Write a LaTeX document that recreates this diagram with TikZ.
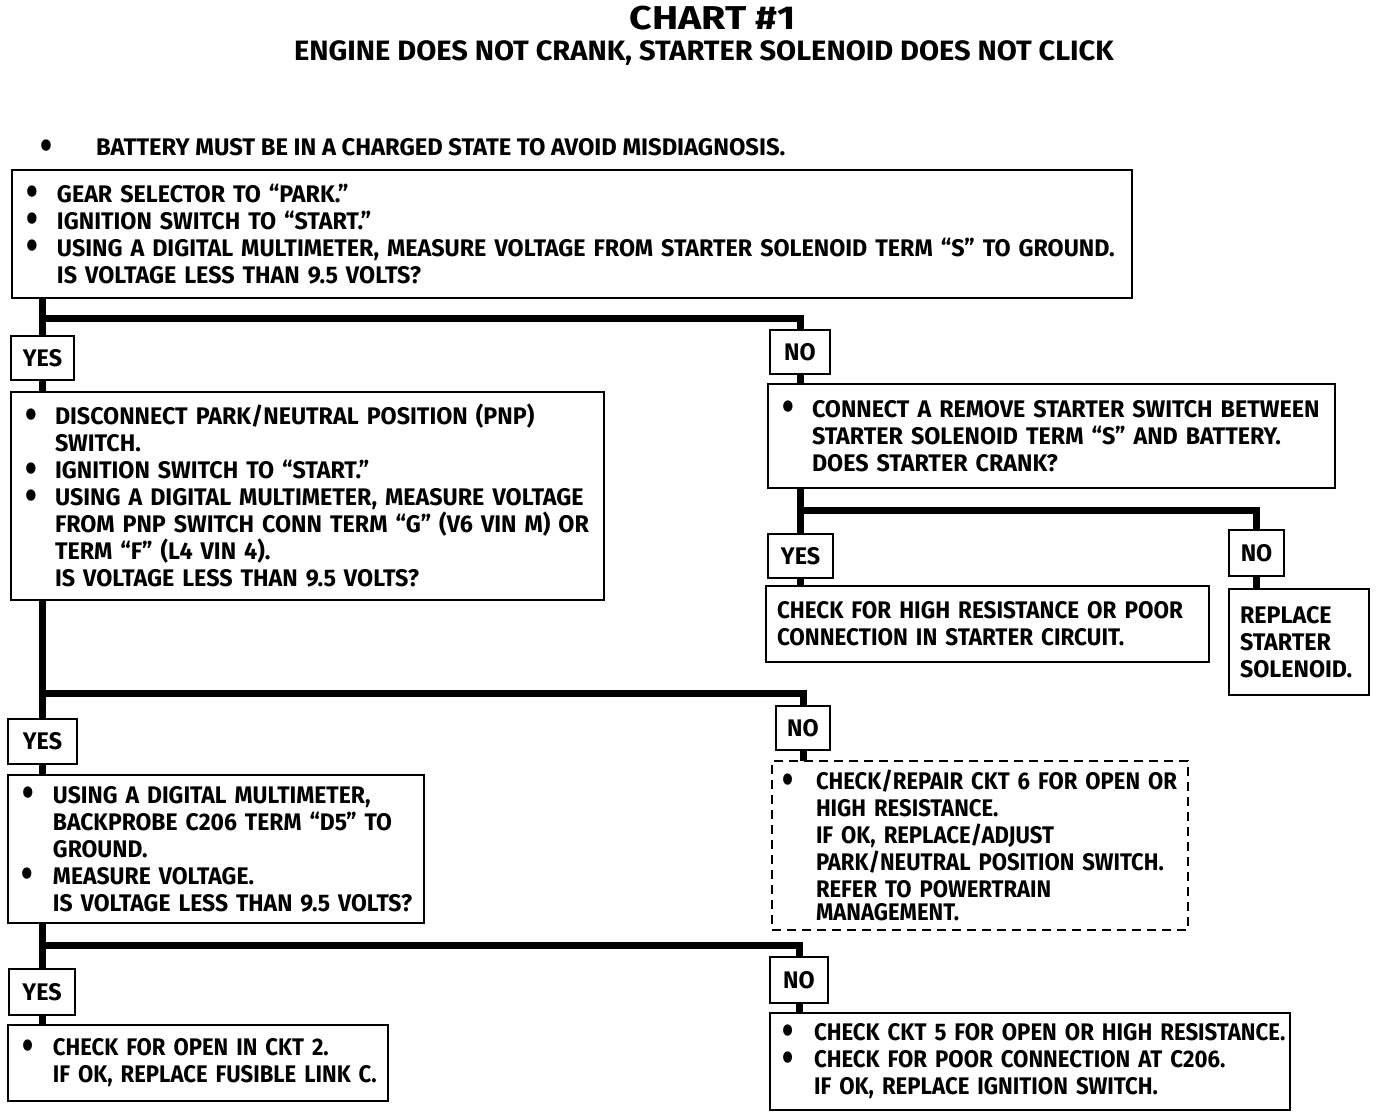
\documentclass[tikz,border=0pt]{standalone}
\usepackage{fontspec}
\setmainfont{Fira Sans}[FakeStretch=0.97]
\newfontfamily\fa{Fira Sans}[FakeStretch=0.99]
\newfontfamily\fb{Fira Sans}[FakeStretch=0.97]
\newfontfamily\fc{Fira Sans}[FakeStretch=0.955]
\newfontfamily\fd{Fira Sans}[FakeStretch=0.935]
\newfontfamily\fe{Fira Sans}[FakeStretch=0.92]
\newfontfamily\ff{Fira Sans}[FakeStretch=0.925]
\newcommand\bodyfont{\fontsize{24}{27}\selectfont\bfseries}
\newcommand\bigbul{\raisebox{-3.5pt}[0pt][0pt]{\scalebox{1.45}[1.7]{\textbullet}}}
\newcommand\bl[2]{\mbox{\makebox[#1][l]{\bigbul}#2}}
\newcommand\cl[2]{\mbox{\hspace*{#1}#2}}
\begin{document}
\begin{tikzpicture}[x=1pt,y=-1pt,
  box/.style={draw, line width=2.5pt, anchor=north west, align=left, inner ysep=0pt, outer sep=0pt, font=\fb\bodyfont},
  dbox/.style={box, line width=2pt, dash pattern=on 9pt off 6pt},
  lbl/.style={draw, line width=2.5pt, anchor=north west, inner sep=0pt, outer sep=0pt, font=\fb\bodyfont},
  conn/.style={line width=7pt},
]
\useasboundingbox[fill=white] (0,0) rectangle (1392,1118);

% titles
\node[anchor=base, inner sep=0pt, font=\fontsize{33}{36}\selectfont\bfseries] (title) at (713,30) {\scalebox{1.23}[1]{CHART \#1}};
\node[anchor=base, inner sep=0pt, font=\fontsize{28}{30}\selectfont\bfseries] (sub) at (704,61) {\scalebox{1.07}[1]{ENGINE DOES NOT CRANK, STARTER SOLENOID DOES NOT CLICK}};
\node[anchor=base west, inner sep=0pt, font=\fa\bodyfont] (bat) at (40,156) {\bl{56pt}{BATTERY MUST BE IN A CHARGED STATE TO AVOID MISDIAGNOSIS.}};

% boxes
\node[box, minimum width=1120pt, minimum height=128pt, inner xsep=15pt, text width=1090pt] (b1) at (12,170)
 {\bl{30pt}{GEAR SELECTOR TO “PARK.”}\\
  \bl{30pt}{IGNITION SWITCH TO “START.”}\\
  \bl{30pt}{USING A DIGITAL MULTIMETER, MEASURE VOLTAGE FROM STARTER SOLENOID TERM “S” TO GROUND.}\\
  \cl{30pt}{IS VOLTAGE LESS THAN 9.5 VOLTS?}};

\node[lbl, minimum width=63pt, minimum height=44pt] (y1) at (11,336) {YES};
\node[lbl, minimum width=60pt, minimum height=44pt] (n1) at (770,330) {NO};

\node[box, minimum width=593pt, minimum height=208pt, inner xsep=14pt, text width=565pt] (b2) at (11,392)
 {\bl{30pt}{DISCONNECT PARK/NEUTRAL POSITION (PNP)}\\
  \cl{30pt}{SWITCH.}\\
  \bl{30pt}{IGNITION SWITCH TO “START.”}\\
  \bl{30pt}{USING A DIGITAL MULTIMETER, MEASURE VOLTAGE}\\
  \cl{30pt}{FROM PNP SWITCH CONN TERM “G” (V6 VIN M) OR}\\
  \cl{30pt}{TERM “F” (L4 VIN 4).}\\
  \cl{30pt}{IS VOLTAGE LESS THAN 9.5 VOLTS?}};

\node[box, minimum width=567pt, minimum height=104pt, inner xsep=14pt, text width=539pt] (b3) at (768,384)
 {\bl{30pt}{CONNECT A REMOVE STARTER SWITCH BETWEEN}\\
  \cl{30pt}{STARTER SOLENOID TERM “S” AND BATTERY.}\\
  \cl{30pt}{DOES STARTER CRANK?}};

\node[lbl, minimum width=65pt, minimum height=44pt] (y2) at (768,534) {YES};
\node[lbl, minimum width=55pt, minimum height=46pt] (n2) at (1229,530) {NO};

\node[box, font=\fd\bodyfont, minimum width=443pt, minimum height=76pt, inner xsep=11pt, text width=421pt] (b4) at (766,586)
 {\mbox{CHECK FOR HIGH RESISTANCE OR POOR}\\
  \mbox{CONNECTION IN STARTER CIRCUIT.}};

\node[box, minimum width=140pt, minimum height=106pt, inner xsep=11pt, text width=118pt] (b5) at (1229,589)
 {\mbox{REPLACE}\\ \mbox{STARTER}\\ \mbox{SOLENOID.}};

\node[lbl, minimum width=69pt, minimum height=45pt] (y3) at (8,719) {YES};
\node[lbl, minimum width=54pt, minimum height=44pt] (n3) at (776,706) {NO};

\node[box, font=\fc\bodyfont, minimum width=416pt, minimum height=148pt, inner xsep=14pt, text width=388pt] (b6) at (8,775)
 {\bl{31pt}{USING A DIGITAL MULTIMETER,}\\
  \cl{31pt}{BACKPROBE C206 TERM “D5” TO}\\
  \cl{31pt}{GROUND.}\\
  \bl{31pt}{MEASURE VOLTAGE.}\\
  \cl{31pt}{IS VOLTAGE LESS THAN 9.5 VOLTS?}};

\node[dbox, font=\fe\bodyfont, minimum width=416pt, minimum height=169pt, inner xsep=10pt, text width=396pt] (b7) at (772,761)
 {\bl{34pt}{CHECK/REPAIR CKT 6 FOR OPEN OR}\\
  \cl{34pt}{HIGH RESISTANCE.}\\
  \cl{34pt}{IF OK, REPLACE/ADJUST}\\
  \cl{34pt}{PARK/NEUTRAL POSITION SWITCH.}\\
  \cl{34pt}{REFER TO POWERTRAIN}\\[-4pt]
  \cl{34pt}{MANAGEMENT.}};

\node[lbl, minimum width=66pt, minimum height=46pt] (y4) at (9,969) {YES};
\node[lbl, minimum width=58pt, minimum height=46pt] (n4) at (770,957) {NO};

\node[box, font=\fe\bodyfont, minimum width=380pt, minimum height=76pt, inner xsep=14pt, text width=352pt] (b8) at (8,1025)
 {\bl{31pt}{CHECK FOR OPEN IN CKT 2.}\\
  \cl{31pt}{IF OK, REPLACE FUSIBLE LINK C.}};

\node[box, font=\ff\bodyfont, minimum width=520pt, minimum height=97pt, inner xsep=12pt, text width=496pt] (b9) at (770,1013)
 {\bl{32pt}{CHECK CKT 5 FOR OPEN OR HIGH RESISTANCE.}\\
  \bl{32pt}{CHECK FOR POOR CONNECTION AT C206.}\\
  \cl{32pt}{IF OK, REPLACE IGNITION SWITCH.}};

% junctions
\coordinate (j1) at (42.5,318);
\coordinate (j2) at (800.5,510);
\coordinate (j3) at (42.5,693);
\coordinate (j4) at (42,945);

% connectors
\draw[conn] (b1.south -| y1) -- (y1.north);
\draw[conn] (j1) -| (n1.north);
\draw[conn] (y1.south) -- (y1.south |- b2.north);
\draw[conn] (n1.south) -- (n1.south |- b3.north);

\draw[conn] (b3.south -| y2) -- (y2.north);
\draw[conn] (j2) -| (n2.north);
\draw[conn] (y2.south) -- (y2.south |- b4.north);
\draw[conn] (n2.south) -- (n2.south |- b5.north);

\draw[conn] (b2.south -| y3) -- (y3.north);
\draw[conn] (j3) -| (n3.north);
\draw[conn] (y3.south) -- (y3.south |- b6.north);
\draw[conn] (n3.south) -- (n3.south |- b7.north);

\draw[conn] (b6.south -| y4) -- (y4.north);
\draw[conn] (j4) -| (n4.north);
\draw[conn] (y4.south) -- (y4.south |- b8.north);
\draw[conn] (n4.south) -- (n4.south |- b9.north);
\end{tikzpicture}
\end{document}
